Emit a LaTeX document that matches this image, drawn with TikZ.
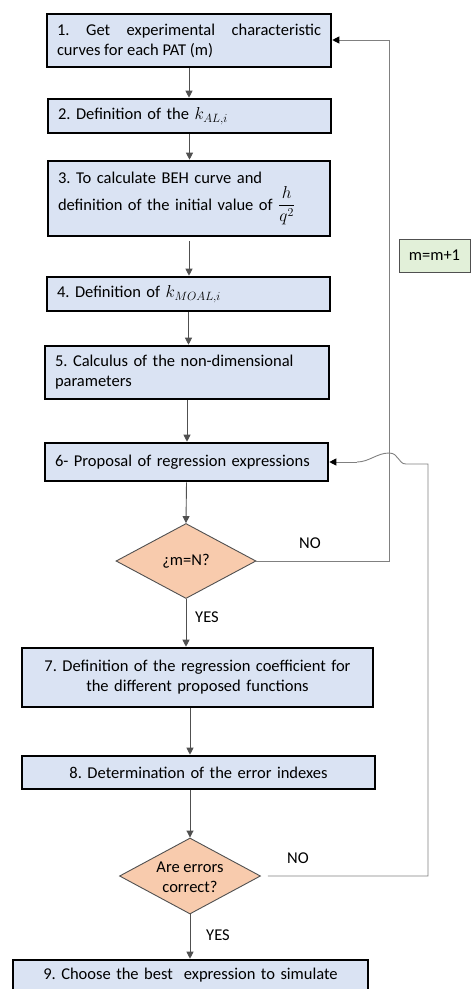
\documentclass[tikz,border=0pt]{standalone}
\usepackage{amsmath}
\usepackage{fontspec}
\setmainfont{Carlito}
\usetikzlibrary{shapes.geometric,arrows.meta}
\definecolor{boxfill}{HTML}{DAE3F3}
\definecolor{dfill}{HTML}{F8CBAD}
\definecolor{gfill}{HTML}{E2F0D9}
\definecolor{conn}{HTML}{505050}
\definecolor{fbk}{HTML}{808080}
\frenchspacing
\begin{document}
\begin{tikzpicture}[x=1pt,y=-1pt,
  font=\fontsize{16.5}{20}\selectfont,
  stepbox/.style={draw=black,line width=2.6pt,fill=boxfill,rectangle,inner xsep=10pt,inner ysep=2pt},
  dec/.style={draw=conn,line width=0.9pt,fill=dfill,diamond,inner sep=0pt},
  conn/.style={draw=conn,line width=0.9pt,-{Triangle[length=7pt,width=7pt]}},
  fb/.style={draw=fbk,line width=0.9pt},
  fbarrow/.style={fb,-{Triangle[length=7pt,width=7pt,color=black]}},
  lab/.style={inner sep=0pt}]
\useasboundingbox (0,0) rectangle (471,989);
\clip (0,0) rectangle (471,989);
% boxes
\node[stepbox,minimum width=284,minimum height=53,text width=264,align=justify] (b1) at (189,40.5)
  {1. Get experimental characteristic\linebreak curves for each PAT (m)};
\node[stepbox,minimum width=283,minimum height=34,text width=263,align=left] (b2) at (189.5,116)
  {2. Definition of the $k_{AL,i}$};
\node[stepbox,minimum width=282,minimum height=75,text width=262,align=left] (b3) at (189,198.5)
  {3. To calculate BEH curve and\\[2pt] definition of the initial value of $\dfrac{h}{q^2}$};
\node[stepbox,minimum width=283,minimum height=34,text width=263,align=left] (b4) at (188.5,294)
  {4. Definition of $k_{MOAL,i}$};
\node[stepbox,minimum width=284,minimum height=53,text width=264,align=left] (b5) at (187,372.5)
  {5. Calculus of the non-dimensional\\parameters};
\node[stepbox,minimum width=283,minimum height=38,text width=263,align=left] (b6) at (186.5,462)
  {6- Proposal of regression expressions};
\node[dec,minimum width=140,minimum height=75] (d1) at (186,561) {};
\node[lab] (d1t) at (186,561) {¿m=N?};
\node[stepbox,minimum width=351,minimum height=59,text width=331,align=center] (b7) at (197.5,677.5)
  {7. Definition of the regression coefficient for\\the different proposed functions};
\node[stepbox,minimum width=353,minimum height=33,text width=333,align=center] (b8) at (198.5,772.5)
  {8. Determination of the error indexes};
\node[dec,minimum width=141,minimum height=76] (d2) at (190,876) {};
\node[lab,align=center] (d2t) at (190,877) {Are errors\\correct?};
\node[stepbox,minimum width=355,minimum height=56,text width=335,align=center,text depth=28pt] (b9) at (190.5,988)
  {9. Choose the best\ \ expression to simulate};
\node[draw=conn,line width=0.8pt,fill=gfill,minimum width=71,minimum height=33,inner sep=0pt] (mb) at (434.5,255.5) {m=m+1};
% labels
\node[lab] (no1) at (310,543) {NO};
\node[lab] (yes1) at (207,617) {YES};
\node[lab] (no2) at (298,858) {NO};
\node[lab] (yes2) at (218,935) {YES};
% main flow
\draw[conn] (b1.south) -- (b1.south |- b2.north);
\draw[conn] (b2.south) -- (b2.south |- b3.north);
\draw[conn] ([yshift=-4pt]b3.south) -- (b3.south |- b4.north);
\draw[conn] (b4.south) -- (b4.south |- b5.north);
\draw[conn] (b5.south) -- (b5.south |- b6.north);
\draw[conn] (b6.south) -- (d1.north);
\draw[conn] (d1.south) -- (d1.south |- b7.north);
\draw[conn] (b7.south -| d2) -- (b8.north -| d2);
\draw[conn] (b8.south -| d2) -- (d2.north);
\draw[conn] (d2.south) -- (d2.south |- b9.north);
% feedback loops
\coordinate (c1) at (389,40);
\draw[fbarrow] (d1.east) -| (c1) -- (c1 -| b1.east);
\coordinate (c2) at (428,464);
\coordinate (h1) at (406,464);
\coordinate (h2) at (357,462);
\draw[fb] ([xshift=7pt]d2.east) -| (c2) -- (h1)
  .. controls (398,464) and (399,453) .. (389,453)
  .. controls (377,453) and (369,462) .. (h2);
\draw[fbarrow] (h2) -- (h2 -| b6.east);
\end{tikzpicture}
\end{document}
